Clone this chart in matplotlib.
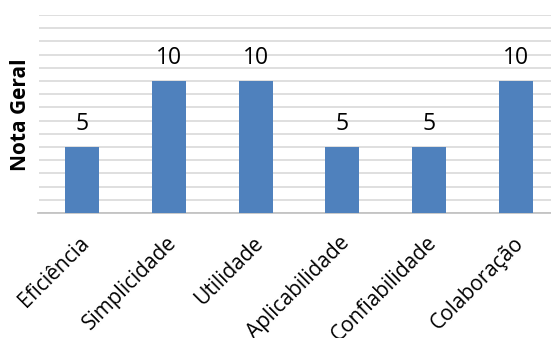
import matplotlib
matplotlib.use("Agg")
import matplotlib.pyplot as plt
from matplotlib.transforms import ScaledTranslation

categories = ["Eficiência", "Simplicidade", "Utilidade", "Aplicabilidade", "Confiabilidade", "Colaboração"]
values = [5, 10, 10, 5, 5, 10]
ylabel = "Nota Geral"

plt.rcParams['font.family'] = ['Open Sans', 'DejaVu Sans']

fig = plt.figure(figsize=(5.51, 3.38), dpi=100)
ax = fig.add_axes([38.5/551, 125/338, 521/551, 198/338])
x = list(range(len(categories)))
ax.bar(x, values, width=0.39, color="#4f81bd", zorder=3)
ax.set_xlim(-0.5, len(categories) - 0.5)
ax.set_ylim(0, 15)
ax.set_yticks(range(0, 16))
ax.yaxis.grid(True, color="#d9d9d9", linewidth=1.2, zorder=0)
ax.tick_params(axis='y', left=False, labelleft=False)
ax.tick_params(axis='x', length=0, pad=14)
for s in ["top", "right", "left"]:
    ax.spines[s].set_visible(False)
ax.spines["bottom"].set_color("#bfbfbf")
ax.spines["bottom"].set_linewidth(1.2)
ax.set_xticks(x)
ax.set_xticklabels(categories, rotation=45, ha="right", rotation_mode="anchor", fontsize=15)
off = ScaledTranslation(-3/100, 0, fig.dpi_scale_trans)
for lab in ax.get_xticklabels():
    lab.set_transform(lab.get_transform() + off)
for xi, v in zip(x, values):
    ax.text(xi, v + 0.85, str(v), ha="center", va="bottom", fontsize=16.5)
fig.text(21/551, 1 - 115/338, ylabel, rotation=90, ha="center", va="center", fontsize=15, fontweight="bold")
fig.savefig("out.png", dpi=100)
